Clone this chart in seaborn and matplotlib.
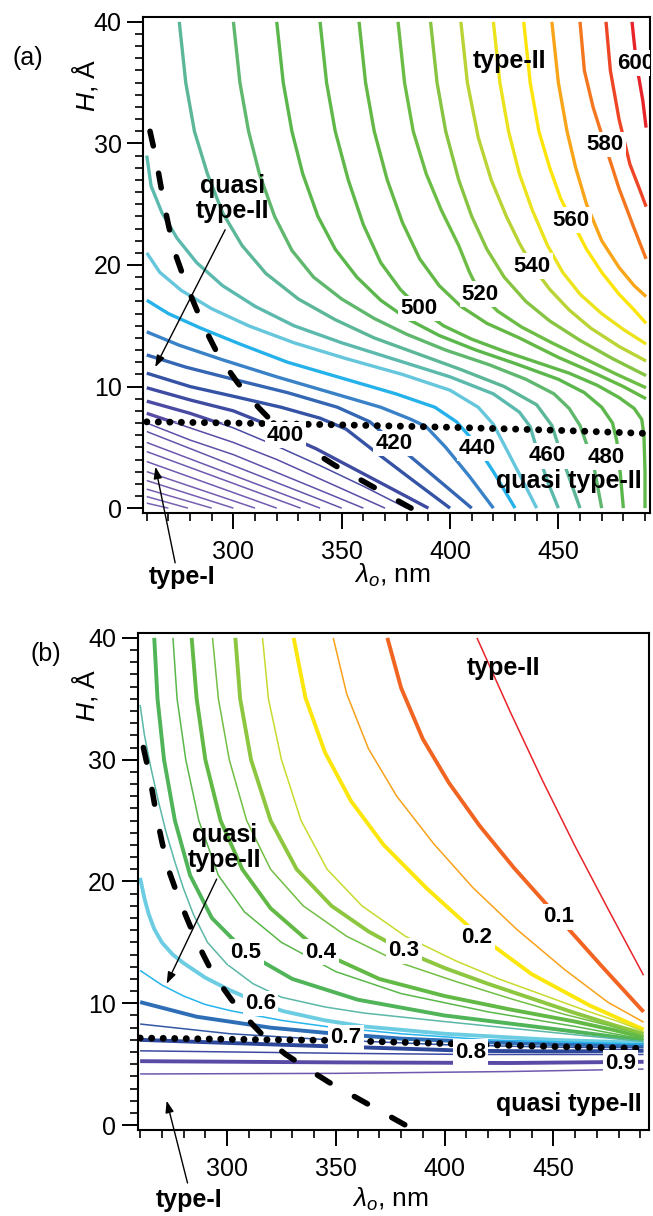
import numpy as np
import pandas as pd
import matplotlib
matplotlib.use("Agg")
import matplotlib.pyplot as plt
from matplotlib.colors import LinearSegmentedColormap
from matplotlib.patches import Polygon
from matplotlib.ticker import MultipleLocator
import seaborn as sns

# ---------------- panel (a): emission wavelength contours (nm) ----------------
A_LEVELS = [280, 290, 300, 310, 320, 330, 340, 350, 360, 370, 380, 390,
            400, 410, 420, 430, 440, 450, 460, 470, 480, 490, 500, 510,
            520, 530, 540, 550, 560, 570, 580, 590, 600]
A_LAM = [
    [260, 270],
    [260, 279],
    [260, 290],
    [260, 300],
    [260, 310],
    [260, 320],
    [260, 331],
    [260, 340],
    [260, 350],
    [260, 280, 300, 330, 360],
    [260, 280, 300, 320, 345, 370],
    [260, 280, 300, 320, 340, 360, 380],
    [260, 280, 300, 314, 324, 338, 355, 372, 390],
    [260, 280, 300, 322, 340, 352, 365, 382, 400],
    [260, 278, 300, 325, 348, 363, 374, 390, 410],
    [260, 275, 295, 320, 345, 368, 382, 389, 398, 409, 420],
    [260, 270, 285, 303, 325, 350, 375, 393, 403, 409, 413, 420, 430],
    [260, 266, 276, 290, 307, 328, 352, 378, 400, 413, 420, 425, 432, 440],
    [260, 262, 267, 274, 283, 295, 310, 328, 350, 375, 400, 420, 432, 437, 441, 445, 450],
    [275, 278, 282, 288, 295, 304, 315, 330, 347, 365, 385, 405, 425, 440, 447, 453, 460],
    [300, 303, 307, 312, 319, 327, 337, 350, 365, 380, 398, 418, 435, 448, 455, 460, 466, 470],
    [320, 323, 327, 332, 339, 347, 357, 368, 380, 395, 412, 430, 450, 462, 470, 475, 477, 478.5, 480],
    [340, 343, 347, 353, 360, 368, 377, 386, 397, 410, 425, 440, 455, 468, 478, 485, 488.5, 489.5, 490, 490],
    [358, 361, 365, 371, 378, 386, 395, 405, 417, 432, 450, 468, 480, 490.5],
    [376, 379, 383, 389, 396, 404, 409, 414, 422, 433, 447, 462, 477, 490.5],
    [391, 394, 398, 404, 410, 417, 425, 435, 446, 460, 475, 490.5],
    [405, 408, 413, 419, 426, 432, 438, 446, 455, 465, 478, 490.5],
    [420, 423, 427, 432, 438, 445, 452, 460, 470, 480, 490.5],
    [434, 437, 441, 446, 451, 456, 463, 470, 478, 485, 490.5],
    [447, 450, 454, 458, 463, 470, 478, 485, 490.5],
    [460, 462, 466, 471.5, 478, 485, 490.5],
    [472, 474, 478, 483, 488, 490.5],
    [484, 486, 489, 490.5],
]
A_H = [
    [0.41, 0],
    [0.95, 0],
    [1.56, 0],
    [2.27, 0],
    [3.0, 0],
    [3.83, 0],
    [4.65, 0],
    [5.4, 0],
    [6.3, 0],
    [7.0, 5.6, 4.4, 2.2, 0],
    [7.8, 6.6, 5.4, 4.0, 2.0, 0],
    [8.8, 7.8, 6.6, 5.1, 3.5, 1.8, 0],
    [9.9, 8.9, 8.0, 7.0, 6.0, 4.9, 3.3, 1.7, 0],
    [11.1, 10.0, 9.2, 8.3, 7.4, 6.5, 4.7, 2.4, 0],
    [12.6, 11.6, 10.6, 9.5, 8.3, 7.1, 5.4, 3.0, 0],
    [14.5, 13.4, 12.2, 10.8, 9.5, 8.3, 7.3, 6.7, 5.0, 2.6, 0],
    [17.1, 16.0, 14.8, 13.5, 12.0, 10.7, 9.4, 8.3, 7.1, 5.9, 4.9, 3.0, 0],
    [21.0, 19.4, 17.9, 16.4, 15.0, 13.6, 12.3, 11.0, 9.7, 8.3, 6.9, 5.2, 2.8, 0],
    [29.0, 26.5, 24.3, 22.2, 20.2, 18.3, 16.6, 15.0, 13.6, 12.2, 10.8, 9.4, 7.9, 6.7, 4.3, 2.2, 0],
    [40, 35, 31, 27.5, 24.3, 21.6, 19.3, 17.2, 15.5, 14.0, 12.7, 11.4, 10.0, 8.5, 6.8, 3.5, 0],
    [40, 35, 31, 27.5, 24.0, 21.2, 19.0, 17.2, 15.6, 14.3, 13.0, 11.8, 10.6, 9.4, 8.2, 6.8, 3.8, 0],
    [40, 35, 31, 27.5, 24.0, 21.3, 19.0, 17.1, 15.6, 14.2, 13.0, 11.9, 10.6, 9.5, 8.3, 7.0, 5.5, 3.0, 0],
    [40, 35, 31, 27.0, 23.3, 20.2, 18.0, 16.4, 15.0, 13.9, 12.9, 12.0, 11.1, 10.1, 9.1, 8.2, 7.3, 6.0, 3.0, 0],
    [40, 35, 31, 27.0, 23.5, 20.5, 18.3, 16.6, 15.2, 14.0, 12.4, 11.0, 10.0, 9.0],
    [40, 35, 31, 27.5, 24.5, 21.6, 19.4, 17.6, 16.2, 14.9, 13.6, 12.3, 11.0, 9.9],
    [40, 35, 31, 27.0, 24.0, 21.3, 19.0, 17.0, 15.4, 13.8, 12.3, 10.9],
    [40, 35, 30.5, 27.0, 24.0, 21.8, 19.9, 18.0, 16.3, 14.8, 13.3, 12.1],
    [40, 35, 31, 27.5, 24.5, 21.6, 19.4, 17.6, 16.0, 14.7, 13.5],
    [40, 35, 31, 28.0, 25.5, 23.7, 21.3, 19.4, 17.6, 16.3, 15.2],
    [40, 35, 31, 28.0, 25.0, 22.0, 19.8, 18.3, 17.4],
    [40, 36, 33, 29.9, 26.3, 23.0, 20.5],
    [40, 36, 32, 28.3, 26.0, 24.8],
    [40, 36.6, 33.5, 31.3],
]
A_LABELS = [400, 420, 440, 460, 480, 500, 520, 540, 560, 580, 600]

# ---------------- panel (b): overlap contours ----------------
B_LEVELS = [0.05, 0.1, 0.15, 0.2, 0.25, 0.3, 0.35, 0.4, 0.45, 0.5,
            0.55, 0.6, 0.65, 0.7, 0.75, 0.8, 0.85, 0.9, 0.95]
B_LAM = [
    [414.9, 430, 445, 460, 475, 491.5],
    [373.7, 380, 390, 402, 416, 432, 452.5, 472, 491.5],
    [348.8, 355, 365, 378, 395, 413, 433, 455, 475, 491.5],
    [330.6, 336, 345, 357, 372, 392, 414.9, 440, 467, 491.5],
    [316.3, 319, 325, 334, 346, 362, 382, 405, 425, 445, 465, 480, 491.5],
    [303.8, 306, 311, 320, 332, 348, 365, 381.3, 400, 420, 440, 460, 478, 491.5],
    [293.3, 296, 301, 309, 320, 335, 355, 380, 405, 430, 455, 475, 491.5],
    [283.7, 286, 290, 297, 307, 320, 343.1, 370, 400, 430, 460, 478, 491.5],
    [275.1, 277, 281, 287, 296, 308, 325, 350, 380, 420, 460, 491.5],
    [266.5, 268, 271, 276, 283, 293, 308.6, 330, 360, 400, 450, 491.5],
    [260, 262, 265, 268.4, 272, 276, 280, 284.5, 291, 300, 312, 325, 345, 363, 400, 450, 491.5],
    [260, 262, 264, 266.5, 270, 275, 280, 290, 301, 315, 326, 345, 363, 400, 450, 491.5],
    [260, 270, 280, 290, 301.4, 325, 347.4, 380, 420, 460, 491.5],
    [260, 286, 320, 347, 380, 420, 460, 491.5],
    [260, 301.4, 347.4, 400, 450, 491.5],
    [260, 300, 350, 412, 450, 491.5],
    [260, 350, 412, 491.5],
    [260, 350, 430, 491.5],
    [260, 350, 430, 491.5],
]
B_H = [
    [40, 34.0, 28.3, 22.9, 17.8, 12.3],
    [40, 35.9, 31.7, 28.1, 24.6, 21.1, 17.0, 13.1, 9.3],
    [40, 35.4, 30.9, 27.0, 23.1, 19.5, 16.1, 12.8, 10.1, 8.45],
    [40, 35.1, 30.6, 26.6, 23.0, 19.4, 15.7, 12.4, 9.8, 7.85],
    [40, 35, 30, 25, 21, 18, 15.5, 13.5, 12.0, 10.7, 9.4, 8.5, 7.7],
    [40, 35, 30, 25, 21, 18, 15.9, 14.3, 12.9, 11.6, 10.4, 9.2, 8.2, 7.5],
    [40, 35, 30, 25, 21, 18, 15.5, 13.3, 11.8, 10.4, 9.1, 8.2, 7.35],
    [40, 35, 30, 25, 21, 17.8, 14.2, 12.0, 10.6, 9.5, 8.5, 7.8, 7.2],
    [40, 35, 30, 25, 20.5, 17.5, 15.0, 12.6, 10.8, 9.3, 8.1, 7.05],
    [40, 35, 30, 25, 20.5, 17, 14.2, 12.0, 10.3, 9.0, 7.9, 6.95],
    [34.5, 32.0, 29.3, 26.6, 24.0, 21.6, 19.4, 17.3, 15.0, 13.2, 11.6, 10.5, 9.7, 9.2, 8.5, 7.6, 6.85],
    [20.3, 18.6, 17.3, 16.1, 15.0, 14.0, 13.3, 12.1, 11.1, 10.0, 9.35, 8.6, 8.1, 7.5, 7.0, 6.75],
    [12.7, 11.5, 10.6, 9.9, 9.4, 8.6, 8.05, 7.5, 7.0, 6.8, 6.65],
    [10.1, 8.9, 8.0, 7.55, 7.1, 6.8, 6.6, 6.55],
    [8.3, 7.5, 7.0, 6.6, 6.4, 6.35],
    [7.0, 6.75, 6.45, 6.1, 6.05, 6.1],
    [6.1, 5.9, 5.8, 5.8],
    [5.25, 5.15, 5.1, 5.2],
    [4.2, 4.25, 4.4, 4.6],
]
B_LABELS = [0.1, 0.2, 0.3, 0.4, 0.5, 0.6, 0.7, 0.8, 0.9]

# region boundaries (same in both panels)
DASH_LAM = [261.5, 264, 266, 268, 270, 273, 277, 281, 285, 289, 293, 298, 302, 307,
            312, 318, 327, 339, 347, 358, 366, 378, 382]
DASH_H = [31.0, 29.0, 27.0, 25.0, 23.3, 21.0, 19.0, 17.2, 15.5, 14.0, 12.6, 11.3, 10.3,
          9.2, 8.2, 7.1, 5.8, 4.4, 3.5, 2.4, 1.6, 0.4, 0.0]
DOT_LAM = [260, 300, 350, 400, 450, 490]
A_DOT_H = [7.1, 7.0, 6.85, 6.65, 6.4, 6.15]
B_DOT_H = [7.15, 7.05, 6.95, 6.7, 6.45, 6.3]

# line colours (level, colour)
A_COLOR_STOPS = [(270, "#7d63b4"), (350, "#6c57ad"), (380, "#5a4ca5"), (400, "#3d4ba1"),
                 (410, "#3553a5"), (420, "#3466b4"), (430, "#3a80c6"), (440, "#24b3ec"),
                 (450, "#66c6dc"), (460, "#5cb9ad"), (470, "#5bb79b"), (480, "#5fb86c"),
                 (490, "#5bb74c"), (510, "#63b946"), (520, "#6cbd45"), (530, "#86c441"),
                 (540, "#b6d336"), (550, "#e9e31e"), (560, "#fde50c"), (570, "#f9a61a"),
                 (580, "#f47a20"), (590, "#ee4824"), (600, "#e8242a")]
B_COLOR_STOPS = ["#e8242a", "#f26522", "#f8a21b", "#fbe90d", "#c5d930", "#8dc63f",
                 "#72bf44", "#62b946", "#5ab74a", "#50b455", "#5bb6a6", "#6dcde2",
                 "#26b4ec", "#2d6db5", "#3358a6", "#2c489b", "#3d4aa1", "#5a4aa5", "#6f58ae"]

sns.set_style("ticks")
plt.rcParams["font.family"] = ["Liberation Sans", "DejaVu Sans"]
plt.rcParams["mathtext.fontset"] = "custom"
plt.rcParams["mathtext.rm"] = "Liberation Sans"
plt.rcParams["mathtext.it"] = "Liberation Sans:italic"
plt.rcParams["axes.linewidth"] = 1.5
for key in ("text.color", "axes.labelcolor", "xtick.color", "ytick.color", "axes.edgecolor"):
    plt.rcParams[key] = "black"


def long_form(levels, lams, hs):
    rows = []
    for lev, xs, ys in zip(levels, lams, hs):
        for k, (x, y) in enumerate(zip(xs, ys)):
            rows.append((lev, k, x, y))
    return pd.DataFrame(rows, columns=["level", "k", "lam", "H"])


def draw_lines(ax, df, cmap, norm, lw, clip=None):
    n0 = len(ax.lines)
    sns.lineplot(data=df, x="lam", y="H", hue="level", units="level",
                 estimator=None, sort=False, palette=cmap, hue_norm=norm,
                 legend=False, lw=lw, ax=ax)
    for ln in ax.lines[n0:]:
        ln.set_solid_capstyle("butt")
        ln.set_solid_joinstyle("round")
        if clip is not None:
            ln.set_clip_path(clip)


def type1_region(ax, dot_x, dot_y, dash_x, dash_y):
    # part below the dotted line and left of the dashed one (type-I)
    dot_x, dot_y = np.asarray(dot_x, float), np.asarray(dot_y, float)
    dash_x, dash_y = np.asarray(dash_x, float), np.asarray(dash_y, float)
    d = dash_y - np.interp(dash_x, dot_x, dot_y)
    i = int(np.argmax(d < 0))
    t = d[i - 1] / (d[i - 1] - d[i])
    xc = dash_x[i - 1] + t * (dash_x[i] - dash_x[i - 1])
    yc = dash_y[i - 1] + t * (dash_y[i] - dash_y[i - 1])
    left = dot_x < xc
    edge = ([(200, dot_y[0])] + list(zip(dot_x[left], dot_y[left])) + [(xc, yc)]
            + list(zip(dash_x[i:], dash_y[i:])))
    inside = edge + [(dash_x[-1], -20), (200, -20)]
    outside = [(200, 80), (600, 80), (600, -20), (dash_x[-1], -20)] + edge[::-1]
    return (Polygon(inside, closed=True, transform=ax.transData),
            Polygon(outside, closed=True, transform=ax.transData))


def style_axis(ax, xlim):
    ax.set_xlim(*xlim)
    ax.set_ylim(-0.4, 40.4)
    ax.xaxis.set_major_locator(MultipleLocator(50))
    ax.xaxis.set_minor_locator(MultipleLocator(10))
    ax.yaxis.set_major_locator(MultipleLocator(10))
    ax.yaxis.set_minor_locator(MultipleLocator(1))
    for s in ax.spines.values():
        s.set_linewidth(1.5)
        s.set_color("black")
    ax.tick_params(which="major", length=11.5, width=1.4, labelsize=18,
                   direction="out", color="black", labelcolor="black",
                   top=False, right=False)
    ax.tick_params(which="minor", length=6, width=1.2, direction="out",
                   color="black", top=False, right=False)
    ax.tick_params(axis="x", which="major", pad=8)
    ax.tick_params(axis="y", which="major", pad=4)
    ax.set_xlabel(r"$\lambda_o$, nm", fontsize=19, color="black")
    ax.set_ylabel(r"$H$, Å", fontsize=19, color="black")


def put_labels(ax, values, spots, fmt):
    for v, (x, y) in zip(values, spots):
        ax.text(x, y, fmt.format(v), ha="center", va="center", fontsize=16,
                fontweight="bold", color="black", zorder=6, clip_on=True,
                bbox=dict(boxstyle="square,pad=0.1", fc="white", ec="none"))


def boundaries(ax, dot_h):
    ax.plot(DOT_LAM, dot_h, color="black", lw=5.0, ls=(0, (0.01, 1.65)),
            dash_capstyle="round", zorder=4)
    ax.plot(DASH_LAM, DASH_H, color="black", lw=4.0, ls=(0, (2.7, 5.0)),
            dash_capstyle="round", zorder=4)


def arrow(ax, head, tail):
    ax.annotate("", xy=head, xytext=tail, annotation_clip=False, zorder=7,
                arrowprops=dict(arrowstyle="-|>,head_length=0.7,head_width=0.25",
                                color="black", lw=1.0, shrinkA=0, shrinkB=0))


fig = plt.figure(figsize=(6.53, 12.16), dpi=100)
ax_a = fig.add_axes([143.3 / 653, 1 - 513 / 1216, (650 - 143.3) / 653, 496 / 1216])
ax_b = fig.add_axes([137.5 / 653, 1 - 1130 / 1216, (649 - 137.5) / 653, 497 / 1216])

# ---- panel (a)
df_a = long_form(A_LEVELS, A_LAM, A_H)
cmap_a = LinearSegmentedColormap.from_list(
    "emis", [((v - 270) / 330, c) for v, c in A_COLOR_STOPS])
inside, outside = type1_region(ax_a, DOT_LAM, A_DOT_H, DASH_LAM, DASH_H)
draw_lines(ax_a, df_a, cmap_a, (270, 600), 2.4, outside)
draw_lines(ax_a, df_a, cmap_a, (270, 600), 1.1, inside)
boundaries(ax_a, A_DOT_H)
style_axis(ax_a, (258.4, 492.3))
ax_a.xaxis.set_label_coords(0.491, -0.099)
ax_a.yaxis.set_label_coords(-0.0855, 0.863)
put_labels(ax_a, A_LABELS,
           [(324, 6.0), (374, 5.3), (412.7, 4.9), (445, 4.3), (472, 4.2),
            (385.6, 16.4), (414, 17.6), (438, 19.9), (456, 23.7), (471.5, 29.9),
            (485.5, 36.6)], "{:d}")
bold = dict(fontsize=18, fontweight="bold", color="black", zorder=7)
ax_a.text(427.3, 36.8, "type-II", ha="center", va="center", **bold)
ax_a.text(299.5, 27.5, "quasi\ntype-II", ha="center", va="top", linespacing=1.05, **bold)
ax_a.text(488.5, 2.2, "quasi type-II", ha="right", va="center", **bold)
ax_a.text(276.3, -5.65, "type-I", ha="center", va="center", clip_on=False, **bold)
arrow(ax_a, (263.9, 11.6), (296.2, 22.9))
arrow(ax_a, (264.0, 3.4), (273.1, -4.5))

# ---- panel (b)
df_b = long_form(B_LEVELS, B_LAM, B_H)
cmap_b = LinearSegmentedColormap.from_list("overlap", B_COLOR_STOPS)
thick = (np.round(df_b["level"] * 20) % 2 == 0)
draw_lines(ax_b, df_b[thick], cmap_b, (0.05, 0.95), 2.8)
draw_lines(ax_b, df_b[~thick], cmap_b, (0.05, 0.95), 1.1)
boundaries(ax_b, B_DOT_H)
style_axis(ax_b, (258.8, 494.0))
ax_b.xaxis.set_label_coords(0.494, -0.113)
ax_b.yaxis.set_label_coords(-0.073, 0.875)
put_labels(ax_b, B_LABELS,
           [(452.5, 17.1), (414.9, 15.4), (381.3, 14.3), (343.1, 14.2), (308.6, 14.2),
            (315.3, 10.0), (354.6, 7.2), (412, 6.0), (481, 5.1)], "{:.1f}")
ax_b.text(427.3, 37.5, "type-II", ha="center", va="center", **bold)
ax_b.text(299.0, 24.8, "quasi\ntype-II", ha="center", va="top", linespacing=1.05, **bold)
ax_b.text(490.5, 1.7, "quasi type-II", ha="right", va="center", **bold)
ax_b.text(282.5, -6.14, "type-I", ha="center", va="center", clip_on=False, **bold)
arrow(ax_b, (272.2, 11.6), (295.2, 20.2))
arrow(ax_b, (272.2, 2.0), (281.8, -4.75))

fig.text(12.5 / 653, 1 - 58.5 / 1216, "(a)", fontsize=18, ha="left", va="center", color="black")
fig.text(31 / 653, 1 - 653.5 / 1216, "(b)", fontsize=18, ha="left", va="center", color="black")

fig.savefig("out.png", dpi=100)
